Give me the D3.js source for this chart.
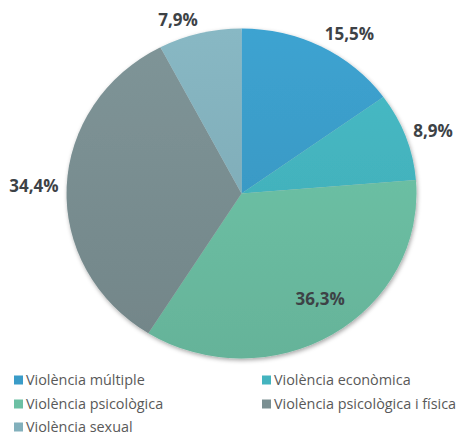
<!DOCTYPE html>
<html>
<head>
<meta charset="utf-8">
<script src="https://cdn.jsdelivr.net/npm/d3@7"></script>
<style>
  body { margin: 0; background: #fff; }
  svg { display: block; }
</style>
</head>
<body>
<div id="chart"></div>
<script>
var categories = ["Violència múltiple", "Violència econòmica", "Violència psicològica", "Violència psicològica i física", "Violència sexual"];
var values = [15.5, 8.9, 36.3, 34.4, 7.9];
var labels = ["15,5%", "8,9%", "36,3%", "34,4%", "7,9%"];
var colors = ["#3a9cc8", "#44b4bf", "#6cc0a4", "#7a8f92", "#82b0bc"];
var placement = ["out", "out", "in", "out", "out"];

var width = 459, height = 437;
var cx = 241.5, cy = 193.5, rx = 175, ry = 165;

var svg = d3.select("#chart").append("svg")
    .attr("width", width)
    .attr("height", height);

var defs = svg.append("defs");

var shadow = defs.append("filter").attr("id", "shadow")
    .attr("x", "-10%").attr("y", "-10%").attr("width", "120%").attr("height", "120%");
shadow.append("feDropShadow")
    .attr("dx", 1).attr("dy", 2).attr("stdDeviation", 2)
    .attr("flood-color", "#000").attr("flood-opacity", 0.35);

// vertical gradient, lighter on top, darker at bottom
colors.forEach(function(c, i) {
  var g = defs.append("linearGradient")
      .attr("id", "grad" + i)
      .attr("gradientUnits", "userSpaceOnUse")
      .attr("x1", 0).attr("y1", -rx).attr("x2", 0).attr("y2", rx);
  g.append("stop").attr("offset", "0%").attr("stop-color", d3.color(c).brighter(0.12));
  g.append("stop").attr("offset", "100%").attr("stop-color", d3.color(c).darker(0.2));
});

var pie = d3.pie().sort(null).value(function(d) { return d; });
var arcs = pie(values);

var arc = d3.arc().innerRadius(0).outerRadius(rx);

var pieG = svg.append("g")
    .attr("transform", "translate(" + cx + "," + cy + ") scale(1," + (ry / rx) + ")")
    .attr("filter", "url(#shadow)");

pieG.selectAll("path")
    .data(arcs)
  .enter().append("path")
    .attr("d", arc)
    .attr("fill", function(d, i) { return "url(#grad" + i + ")"; });

// data labels
var labelG = svg.append("g").attr("transform", "translate(" + cx + "," + cy + ")");
labelG.selectAll("text")
    .data(arcs)
  .enter().append("text")
    .attr("font-family", "'Open Sans', sans-serif")
    .attr("font-weight", "bold")
    .attr("font-size", 17)
    .attr("fill", "#3d4246")
    .attr("dy", "0.35em")
    .each(function(d, i) {
      var a = (d.startAngle + d.endAngle) / 2;
      var s = Math.sin(a), c = Math.cos(a);
      var t = d3.select(this).text(labels[i]);
      if (placement[i] === "in") {
        t.attr("x", 0.8 * rx * s + 6).attr("y", -0.78 * ry * c - 4).attr("text-anchor", "middle");
      } else {
        var x = (rx + 8) * s, y = -(ry + 8) * c - 6 * c;
        t.attr("x", x).attr("y", y).attr("text-anchor", s >= 0 ? "start" : "end");
      }
    });

// legend
var legendCols = [14, 262], legendRows = [380, 404, 427];
var legend = svg.append("g").selectAll("g")
    .data(categories)
  .enter().append("g")
    .attr("transform", function(d, i) {
      return "translate(" + legendCols[i % 2] + "," + legendRows[Math.floor(i / 2)] + ")";
    });

legend.append("rect")
    .attr("x", 0).attr("y", -4.5)
    .attr("width", 9).attr("height", 9)
    .attr("fill", function(d, i) { return colors[i]; });

legend.append("text")
    .attr("x", 12)
    .attr("dy", "0.35em")
    .attr("font-family", "'Open Sans', sans-serif")
    .attr("font-size", 14.4)
    .attr("fill", "#595959")
    .text(function(d) { return d; });
</script>
</body>
</html>
